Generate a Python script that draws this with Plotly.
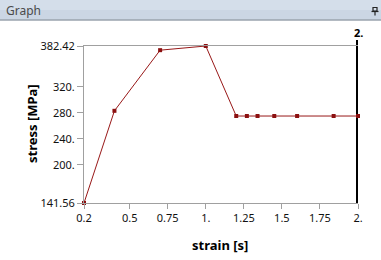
import plotly.graph_objects as go

strain = [0.2, 0.4, 0.7, 1.0, 1.2, 1.27, 1.34, 1.45, 1.6, 1.84, 2.0]
stress = [141.56, 283.0, 376.0, 382.42, 275.0, 275.0, 275.0, 275.0, 275.0, 275.0, 275.0]
x_ticks = [0.2, 0.5, 0.75, 1.0, 1.25, 1.5, 1.75, 2.0]
x_tick_text = ["0.2", "0.5", "0.75", "1.", "1.25", "1.5", "1.75", "2."]
y_ticks = [141.56, 200, 240, 280, 320, 382.42]
y_tick_text = ["141.56", "200.", "240.", "280.", "320.", "382.42"]
marker_time = 2.0
marker_label = "2."

W, H = 381, 260
L, R, T, B = 84, 23, 46, 57
PW, PH = W - L - R, H - T - B

def px(xp):
    return (xp - L) / PW

def py(yp):
    return 1 - (yp - T) / PH

FONT = "Noto Sans"

fig = go.Figure()
fig.add_trace(go.Scatter(
    x=strain, y=stress, mode="lines+markers",
    line=dict(color="#981818", width=1),
    marker=dict(symbol="square", size=4, color="#8b1010"),
    cliponaxis=False, hoverinfo="skip", showlegend=False,
))

shapes = []
# header bar
shapes.append(dict(type="rect", xref="paper", yref="paper", x0=px(0), x1=px(W), y0=py(20), y1=py(0),
                   fillcolor="#cbd6e4", line=dict(width=0), layer="below"))
shapes.append(dict(type="rect", xref="paper", yref="paper", x0=px(0), x1=px(W), y0=py(10), y1=py(0),
                   fillcolor="#d4deea", line=dict(width=0), layer="below"))
shapes.append(dict(type="line", xref="paper", yref="paper", x0=px(0), x1=px(W), y0=py(20), y1=py(20),
                   line=dict(color="#9aa3ae", width=1.5)))
# pin icon
shapes.append(dict(type="rect", xref="paper", yref="paper", x0=px(373), x1=px(377), y0=py(11), y1=py(7.5),
                   line=dict(color="#222", width=1.2), fillcolor="rgba(0,0,0,0)"))
shapes.append(dict(type="line", xref="paper", yref="paper", x0=px(371.5), x1=px(378.5), y0=py(11.5), y1=py(11.5),
                   line=dict(color="#222", width=1.2)))
shapes.append(dict(type="line", xref="paper", yref="paper", x0=px(375), x1=px(375), y0=py(11.5), y1=py(15.5),
                   line=dict(color="#222", width=1.2)))
# current time bar
shapes.append(dict(type="line", xref="x", yref="paper", x0=marker_time, x1=marker_time, y0=0, y1=py(40),
                   line=dict(color="black", width=4), layer="below"))

annotations = [
    dict(text="Graph", xref="paper", yref="paper", x=px(4), y=py(10.5), xanchor="left", yanchor="middle",
         showarrow=False, font=dict(family=FONT, size=12, color="#4a4a4a")),
    dict(text="<b>" + marker_label + "</b>", xref="x", yref="paper", x=marker_time, y=py(32), xanchor="center",
         yanchor="middle", showarrow=False, font=dict(family=FONT, size=11, color="black")),
    dict(text="<b>strain [s]</b>", xref="paper", yref="paper", x=px(220), y=py(245), xanchor="center",
         yanchor="middle", showarrow=False, font=dict(family=FONT, size=13, color="black")),
    dict(text="<b>stress [MPa]</b>", xref="paper", yref="paper", x=px(32), y=py(124), xanchor="center",
         yanchor="middle", textangle=-90, showarrow=False, font=dict(family=FONT, size=13, color="black")),
]

fig.update_layout(
    width=W, height=H, margin=dict(l=L, r=R, t=T, b=B, autoexpand=False),
    paper_bgcolor="white", plot_bgcolor="rgba(0,0,0,0)",
    shapes=shapes, annotations=annotations,
    font=dict(family=FONT, size=11, color="#111"),
    xaxis=dict(range=[0.2, 2.0], tickvals=x_ticks, ticktext=x_tick_text, showgrid=False, zeroline=False,
               showline=True, linecolor="#a0a0a0", linewidth=1, mirror=True, ticks="outside", ticklen=5,
               tickcolor="#a0a0a0", tickfont=dict(family=FONT, size=11, color="#111")),
    yaxis=dict(range=[141.56, 382.42], tickvals=y_ticks, ticktext=y_tick_text, showgrid=False, zeroline=False,
               showline=True, linecolor="#a0a0a0", linewidth=1, ticks="outside", ticklen=6,
               tickcolor="#a0a0a0", tickfont=dict(family=FONT, size=11, color="#111")),
)

fig.write_html("out.html")
